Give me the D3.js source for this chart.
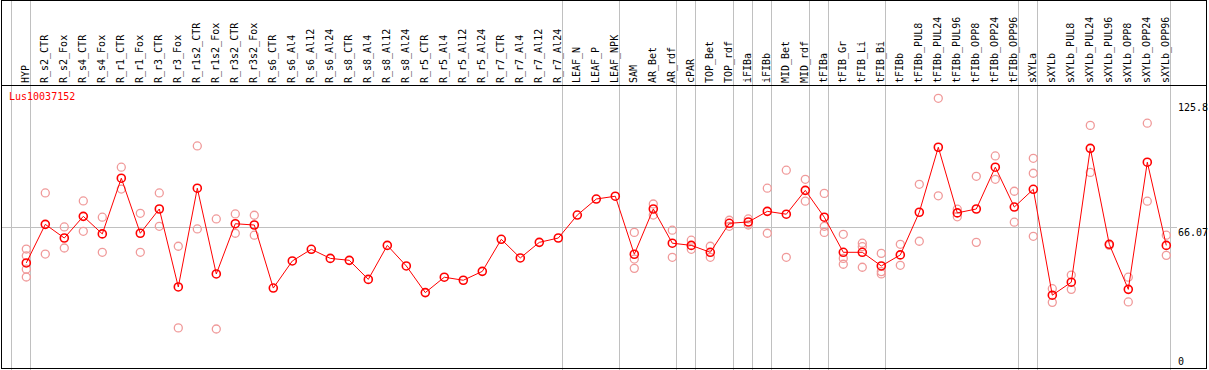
<!DOCTYPE html>
<html><head><meta charset="utf-8">
<script src="https://cdn.jsdelivr.net/npm/d3@7"></script>
<style>
html,body{margin:0;padding:0;background:#fff;}
svg{display:block;}
text{font-family:"DejaVu Sans Mono","Liberation Mono",monospace;font-size:10px;}
</style></head>
<body>
<svg id="chart" width="1209" height="370"></svg>
<script>
const title = "Lus10037152";
const categories = ["HYP","R_s2_CTR","R_s2_Fox","R_s4_CTR","R_s4_Fox","R_r1_CTR","R_r1_Fox","R_r3_CTR","R_r3_Fox","R_r1s2_CTR","R_r1s2_Fox","R_r3s2_CTR","R_r3s2_Fox","R_s6_CTR","R_s6_Al4","R_s6_Al12","R_s6_Al24","R_s8_CTR","R_s8_Al4","R_s8_Al12","R_s8_Al24","R_r5_CTR","R_r5_Al4","R_r5_Al12","R_r5_Al24","R_r7_CTR","R_r7_Al4","R_r7_Al12","R_r7_Al24","LEAF_N","LEAF_P","LEAF_NPK","SAM","AR_Bet","AR_rdf","cPAR","TOP_Bet","TOP_rdf","iFIBa","iFIBb","MID_Bet","MID_rdf","tFIBa","tFIB_Gr","tFIB_Li","tFIB_Bi","tFIBb","tFIBb_PUL8","tFIBb_PUL24","tFIBb_PUL96","tFIBb_OPP8","tFIBb_OPP24","tFIBb_OPP96","sXYLa","sXYLb","sXYLb_PUL8","sXYLb_PUL24","sXYLb_PUL96","sXYLb_OPP8","sXYLb_OPP24","sXYLb_OPP96"];
const meanValues = [49.8,67.6,61.3,71.3,63.2,88.9,63.5,74.7,38.7,84.3,44.7,67.9,67.3,38.2,50.7,56.1,51.9,51.0,42.2,57.9,48.4,36.1,43.2,41.8,45.9,60.7,52.1,59.3,61.3,71.9,79.3,80.6,53.8,74.7,58.9,57.9,54.7,68.1,68.7,73.6,72.3,83.3,70.9,54.7,54.7,48.4,53.5,73.2,103.2,72.9,74.7,94.0,75.6,83.8,34.9,40.9,102.7,58.4,37.6,96.3,57.9];
const replicateValues = [
 [56.2,53.1,46.9,43.3],[82.1,53.9],[66.4,56.7],[78.4,64.4],[70.9,54.7],[94.0,83.9],[72.7,54.7],[82.1,66.7],[57.5,19.8],[103.8,65.5],[70.1,19.3],[72.4,63.5],[71.8,62.6],
 [],[],[],[],[],[],[],[],[],[],[],[],[],[],[],[],[],[],[],
 [63.9,51.6,47.3],[77.0,71.9],[64.9,52.4],[60.3,56.1],[57.5,52.4],[69.5,66.7],[70.1,67.3],[84.3,63.5],[92.6,52.4],[88.4,78.3],[81.9,66.7,63.9],[63.0,51.9,49.2],[58.9,57.3,47.8],[54.2,45.8,44.7],[58.4,48.7],
 [86.1,59.8],[125.8,80.8],[74.6,71.1],[89.8,59.3],[99.2,88.4],[82.9,68.6],[98.1,91.2,62.1],[37.9,31.6],[44.2,37.6],[113.3,91.6],[57.9],[43.2,31.8],[114.3,78.3],[62.6,53.3]
];
const groupEnds = [-1,0,28,31,34,35,37,38,39,41,42,45,52,53,60];
const yTicks = [125.8, 66.07, 0];
const refLine = 66.07;

const W = 1209, H = 370;
const svg = d3.select("#chart");
const x = d3.scaleLinear().domain([0, categories.length - 1]).range([26.3, 1166.3]);
const y = d3.scaleLinear().domain([0, 125.8]).range([370.8, 98.3]);
const px = v => Math.floor(v) + 0.5;

// vertical group separators
svg.append("g").selectAll("line").data(groupEnds).join("line")
  .attr("x1", d => px(x(d) + 4.4)).attr("x2", d => px(x(d) + 4.4))
  .attr("y1", 0).attr("y2", H)
  .attr("stroke", "#c0c0c0").attr("stroke-width", 1);

// horizontal reference line
svg.append("line")
  .attr("x1", 1).attr("x2", 1177)
  .attr("y1", px(y(refLine))).attr("y2", px(y(refLine)))
  .attr("stroke", "#c0c0c0").attr("stroke-width", 1);

// frame
svg.append("rect").attr("x", 1.5).attr("y", 0.5).attr("width", 1205).attr("height", 368)
  .attr("fill", "none").attr("stroke", "#000").attr("stroke-width", 1);
svg.append("line").attr("x1", 1).attr("x2", 1207).attr("y1", 85.5).attr("y2", 85.5)
  .attr("stroke", "#000").attr("stroke-width", 1);

// category labels
svg.append("g").selectAll("text").data(categories).join("text")
  .attr("transform", (d, i) => `translate(${Math.round(x(i) + 3)},83) rotate(-90)`)
  .attr("fill", "#000")
  .text(d => d);

// y tick labels
svg.append("g").selectAll("text").data(yTicks).join("text")
  .attr("x", 1178)
  .attr("y", d => Math.round(Math.min(365.3, Math.max(110.7, y(d) + 8.5))))
  .attr("fill", "#000")
  .text(d => d);

// title
svg.append("text").attr("x", 9).attr("y", 100).attr("fill", "#ff0000").text(title);

// replicate points
const reps = [];
replicateValues.forEach((arr, i) => arr.forEach(v => reps.push({i, v})));
svg.append("g").selectAll("circle").data(reps).join("circle")
  .attr("cx", d => x(d.i)).attr("cy", d => y(d.v)).attr("r", 4)
  .attr("fill", "none").attr("stroke", "#f09a9a").attr("stroke-width", 1.3);

// mean line
svg.append("path").datum(meanValues)
  .attr("d", d3.line().x((d, i) => x(i)).y(d => y(d)))
  .attr("fill", "none").attr("stroke", "#ff0000").attr("stroke-width", 1);

// mean points
svg.append("g").selectAll("circle").data(meanValues).join("circle")
  .attr("cx", (d, i) => x(i)).attr("cy", d => y(d)).attr("r", 4)
  .attr("fill", "none").attr("stroke", "#ff0000").attr("stroke-width", 1.6);
</script>
</body></html>
